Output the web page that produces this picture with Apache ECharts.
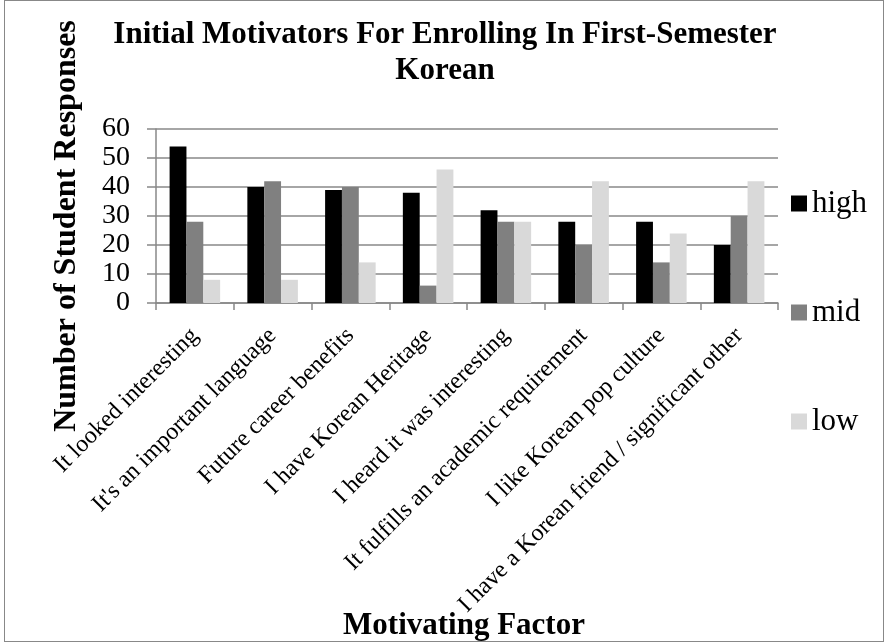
<!DOCTYPE html>
<html>
<head>
<meta charset="utf-8">
<script src="https://cdn.jsdelivr.net/npm/echarts@6/dist/echarts.min.js"></script>
<style>
    html, body { margin: 0; padding: 0; background: #fff; }
    #chart { position: absolute; left: 4px; top: 0; width: 878px; height: 640px; border: 1px solid #888; }
</style>
</head>
<body>
<div id="chart"></div>
<script>
    const categories = [
        'It looked interesting',
        "It's an important language",
        'Future career benefits',
        'I have Korean Heritage',
        'I heard it was interesting',
        'It fulfills an academic requirement',
        'I like Korean pop culture',
        'I have a Korean friend / significant other'
    ];
    const highValues = [54, 40, 39, 38, 32, 28, 28, 20];
    const midValues = [28, 42, 40, 6, 28, 20, 14, 30];
    const lowValues = [8, 8, 14, 46, 28, 42, 24, 42];

    const serif = '"Liberation Serif", "Times New Roman", serif';
    const gray = '#888';

    // the div sits 5px in from the page edge, so positions below are page x - 5
    let chart = echarts.init(document.getElementById('chart'));

    let option = {
        animation: false,
        textStyle: { fontFamily: serif, color: '#000' },
        title: [
            {
                text: 'Initial Motivators For Enrolling In First-Semester\nKorean',
                left: 435,
                top: 11,
                textAlign: 'center',
                textStyle: {
                    fontFamily: serif,
                    fontWeight: 'bold',
                    fontSize: 31,
                    lineHeight: 36,
                    color: '#000'
                }
            },
            {
                text: 'Motivating Factor',
                left: 454,
                top: 604,
                textAlign: 'center',
                textStyle: {
                    fontFamily: serif,
                    fontWeight: 'bold',
                    fontSize: 31,
                    color: '#000'
                }
            }
        ],
        graphic: [
            {
                type: 'text',
                x: 62,
                y: 225,
                rotation: Math.PI / 2,
                style: {
                    text: 'Number of Student Responses',
                    fontFamily: serif,
                    fontWeight: 'bold',
                    fontSize: 32,
                    fill: '#000',
                    textAlign: 'center',
                    textVerticalAlign: 'middle'
                }
            }
        ],
        legend: {
            orient: 'vertical',
            left: 781,
            top: 182,
            itemWidth: 16,
            itemHeight: 16,
            itemGap: 78,
            icon: 'rect',
            textStyle: { fontFamily: serif, fontSize: 31, color: '#000' },
            data: ['high', 'mid', 'low']
        },
        grid: {
            left: 151,
            right: 105,
            top: 128,
            bottom: 338,
            containLabel: false
        },
        xAxis: {
            type: 'category',
            data: categories,
            axisLine: { lineStyle: { color: gray, width: 1.5 } },
            axisTick: { show: true, length: 7, lineStyle: { color: gray, width: 1.5 } },
            axisLabel: {
                interval: 0,
                rotate: 45,
                fontFamily: serif,
                fontSize: 24,
                color: '#000',
                margin: 29
            }
        },
        yAxis: {
            type: 'value',
            min: 0,
            max: 60,
            interval: 10,
            axisLine: { show: true, lineStyle: { color: gray, width: 1.5 } },
            axisTick: { show: true, length: 9, lineStyle: { color: gray, width: 1.5 } },
            axisLabel: { fontFamily: serif, fontSize: 28, color: '#000', margin: 26 },
            splitLine: { lineStyle: { color: gray, width: 1.5 } }
        },
        series: [
            {
                name: 'high',
                type: 'bar',
                data: highValues,
                barGap: '0%',
                barCategoryGap: '35%',
                itemStyle: { color: '#000000' }
            },
            {
                name: 'mid',
                type: 'bar',
                data: midValues,
                itemStyle: { color: '#808080' }
            },
            {
                name: 'low',
                type: 'bar',
                data: lowValues,
                itemStyle: { color: '#d9d9d9' }
            }
        ]
    };

    chart.setOption(option);
</script>
</body>
</html>
